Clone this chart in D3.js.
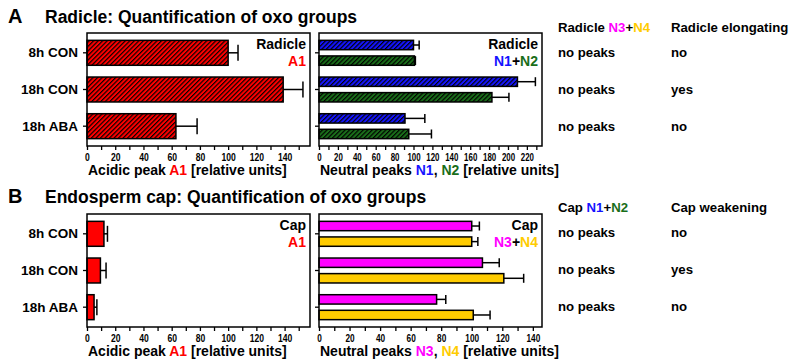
<!DOCTYPE html>
<html>
<head>
<meta charset="utf-8">
<script src="https://cdn.jsdelivr.net/npm/d3@7"></script>
<style>
  body { margin: 0; background: #fff; }
  text { font-family: "Liberation Sans", Arial, sans-serif; font-weight: bold; }
</style>
</head>
<body>
<div id="chart"></div>
<script>
// data
const categories = ["8h CON", "18h CON", "18h ABA"];

const radicleA1 = [100, 139, 63];
const radicleA1Err = [7, 14, 15];
const radicleN1 = [100, 210, 91];
const radicleN1Err = [6, 19, 21];
const radicleN2 = [101, 183, 95];
const radicleN2Err = [1, 18, 24];

const capA1 = [12, 9.5, 5];
const capA1Err = [2.5, 4, 2];
const capN3 = [100, 107, 77];
const capN3Err = [5, 11, 6];
const capN4 = [100, 121, 101];
const capN4Err = [4, 13, 11];

const radicleN3N4 = ["no peaks", "no peaks", "no peaks"];
const radicleElongating = ["no", "yes", "no"];
const capN1N2 = ["no peaks", "no peaks", "no peaks"];
const capWeakening = ["no", "yes", "no"];

const COL = { red: "#ff0000", blue: "#1414ff", green: "#1a6e1a", magenta: "#ff00ff", yellow: "#ffcc00" };

const svg = d3.select("#chart").append("svg")
    .attr("width", 794).attr("height", 360);

// hatch patterns
const defs = svg.append("defs");
function hatch(id, color){
  const p = defs.append("pattern")
      .attr("id", id)
      .attr("patternUnits", "userSpaceOnUse")
      .attr("width", 3.2).attr("height", 3.2)
      .attr("patternTransform", "rotate(45)");
  p.append("rect").attr("width", 3.2).attr("height", 3.2).attr("fill", color);
  p.append("line").attr("x1", 0.6).attr("y1", 0).attr("x2", 0.6).attr("y2", 3.2)
      .attr("stroke", "#000").attr("stroke-width", 1.15);
}
hatch("h-red", COL.red);
hatch("h-blue", COL.blue);
hatch("h-green", COL.green);

// colored multi-part text
function richText(sel, x, y, parts, size, anchor){
  const t = sel.append("text")
      .attr("x", x).attr("y", y)
      .attr("text-anchor", anchor || "start")
      .style("font-size", size + "px");
  parts.forEach(p => t.append("tspan").attr("fill", p[1] || "#000").text(p[0]));
  return t;
}

// one bar panel
function panel(o){
  const W = o.x1 - o.x0, H = o.y1 - o.y0;
  const g = svg.append("g").attr("transform", `translate(${o.x0},${o.y0})`);

  const x = d3.scaleLinear().domain([0, o.max]).range([0, W]);
  const y = d3.scaleBand().domain(categories).range([0, H])
      .paddingInner(0.32).paddingOuter(0.2);
  const sub = d3.scaleBand().domain(d3.range(o.series.length)).range([0, y.bandwidth()])
      .paddingInner(o.series.length > 1 ? 0.4 : 0);

  o.series.forEach((s, si) => {
    const bars = g.append("g");
    categories.forEach((c, i) => {
      const by = y(c) + sub(si), bh = sub.bandwidth();
      bars.append("rect")
          .attr("x", x(0)).attr("y", by)
          .attr("width", x(s.values[i]) - x(0)).attr("height", bh)
          .attr("fill", s.fill).attr("stroke", "#000").attr("stroke-width", 1.5);
      const cy = by + bh / 2, cap = o.series.length > 1 ? 4.5 : 8;
      const xe = x(s.values[i] + s.err[i]);
      bars.append("line").attr("x1", x(s.values[i])).attr("x2", xe)
          .attr("y1", cy).attr("y2", cy).attr("stroke", "#000").attr("stroke-width", 1.5);
      bars.append("line").attr("x1", xe).attr("x2", xe)
          .attr("y1", cy - cap).attr("y2", cy + cap).attr("stroke", "#000").attr("stroke-width", 1.5);
    });
  });

  // frame
  g.append("rect").attr("width", W).attr("height", H)
      .attr("fill", "none").attr("stroke", "#000").attr("stroke-width", 1.5);

  // x axis
  const xAxis = d3.axisBottom(x)
      .tickValues(d3.range(0, o.tickMax + 1, 10))
      .tickSize(4).tickPadding(3)
      .tickFormat(d => d % 20 === 0 ? d : "");
  const ax = g.append("g").attr("transform", `translate(0,${H})`).call(xAxis);
  ax.select(".domain").remove();
  ax.selectAll("line").attr("stroke-width", 1.3);
  ax.selectAll("text")
      .style("font-size", "11px").attr("fill", "#000")
      .attr("transform", `scale(${o.squeeze},1)`);

  // category ticks
  const yAxis = d3.axisLeft(y).tickSize(4).tickPadding(5)
      .tickFormat(o.labels ? (d => d) : "");
  const ay = g.append("g").call(yAxis);
  ay.select(".domain").remove();
  ay.selectAll("line").attr("stroke-width", 1.3);
  ay.selectAll("text").style("font-size", "13.5px").attr("fill", "#000");

  // inside legend
  richText(g, W - 4, 16, [[o.legend1]], 14, "end");
  richText(g, W - 4, 32.5, o.legend2, 14, "end");

  // axis title
  richText(g, 1, H + 29, o.title, 14, "start");
}

// panel A
richText(svg, 8, 23, [["A"]], 20);
richText(svg, 45, 23, [["Radicle: Quantification of oxo groups"]], 17.5);

panel({
  x0: 87, x1: 310, y0: 33, y1: 146, max: 158, tickMax: 150, squeeze: 0.78, labels: true,
  series: [{ values: radicleA1, err: radicleA1Err, fill: "url(#h-red)" }],
  legend1: "Radicle", legend2: [["A1", COL.red]],
  title: [["Acidic peak "], ["A1", COL.red], [" [relative units]"]]
});
panel({
  x0: 319, x1: 542, y0: 33, y1: 146, max: 236, tickMax: 230, squeeze: 0.72, labels: false,
  series: [
    { values: radicleN1, err: radicleN1Err, fill: "url(#h-blue)" },
    { values: radicleN2, err: radicleN2Err, fill: "url(#h-green)" }
  ],
  legend1: "Radicle", legend2: [["N1", COL.blue], ["+"], ["N2", COL.green]],
  title: [["Neutral peaks "], ["N1", COL.blue], [", "], ["N2", COL.green], [" [relative units]"]]
});

// panel B
richText(svg, 8, 203, [["B"]], 20);
richText(svg, 45, 203, [["Endosperm cap: Quantification of oxo groups"]], 17.5);

panel({
  x0: 87, x1: 310, y0: 214, y1: 327, max: 158, tickMax: 150, squeeze: 0.78, labels: true,
  series: [{ values: capA1, err: capA1Err, fill: COL.red }],
  legend1: "Cap", legend2: [["A1", COL.red]],
  title: [["Acidic peak "], ["A1", COL.red], [" [relative units]"]]
});
panel({
  x0: 319, x1: 542, y0: 214, y1: 327, max: 146, tickMax: 140, squeeze: 0.75, labels: false,
  series: [
    { values: capN3, err: capN3Err, fill: COL.magenta },
    { values: capN4, err: capN4Err, fill: COL.yellow }
  ],
  legend1: "Cap", legend2: [["N3", COL.magenta], ["+"], ["N4", COL.yellow]],
  title: [["Neutral peaks "], ["N3", COL.magenta], [", "], ["N4", COL.yellow], [" [relative units]"]]
});

// side tables
function table(y0, head1, col1, head2, col2){
  const rowY = d3.scalePoint().domain(categories).range([y0 + 25, y0 + 99]);
  richText(svg, 558, y0, head1, 13.2);
  richText(svg, 671, y0, [[head2]], 13.2);
  categories.forEach((c, i) => {
    richText(svg, 558, rowY(c), [[col1[i]]], 13.2);
    richText(svg, 671, rowY(c), [[col2[i]]], 13.2);
  });
}
table(31.5, [["Radicle "], ["N3", COL.magenta], ["+"], ["N4", COL.yellow]], radicleN3N4,
      "Radicle elongating", radicleElongating);
table(212, [["Cap "], ["N1", COL.blue], ["+"], ["N2", COL.green]], capN1N2,
      "Cap weakening", capWeakening);
</script>
</body>
</html>
